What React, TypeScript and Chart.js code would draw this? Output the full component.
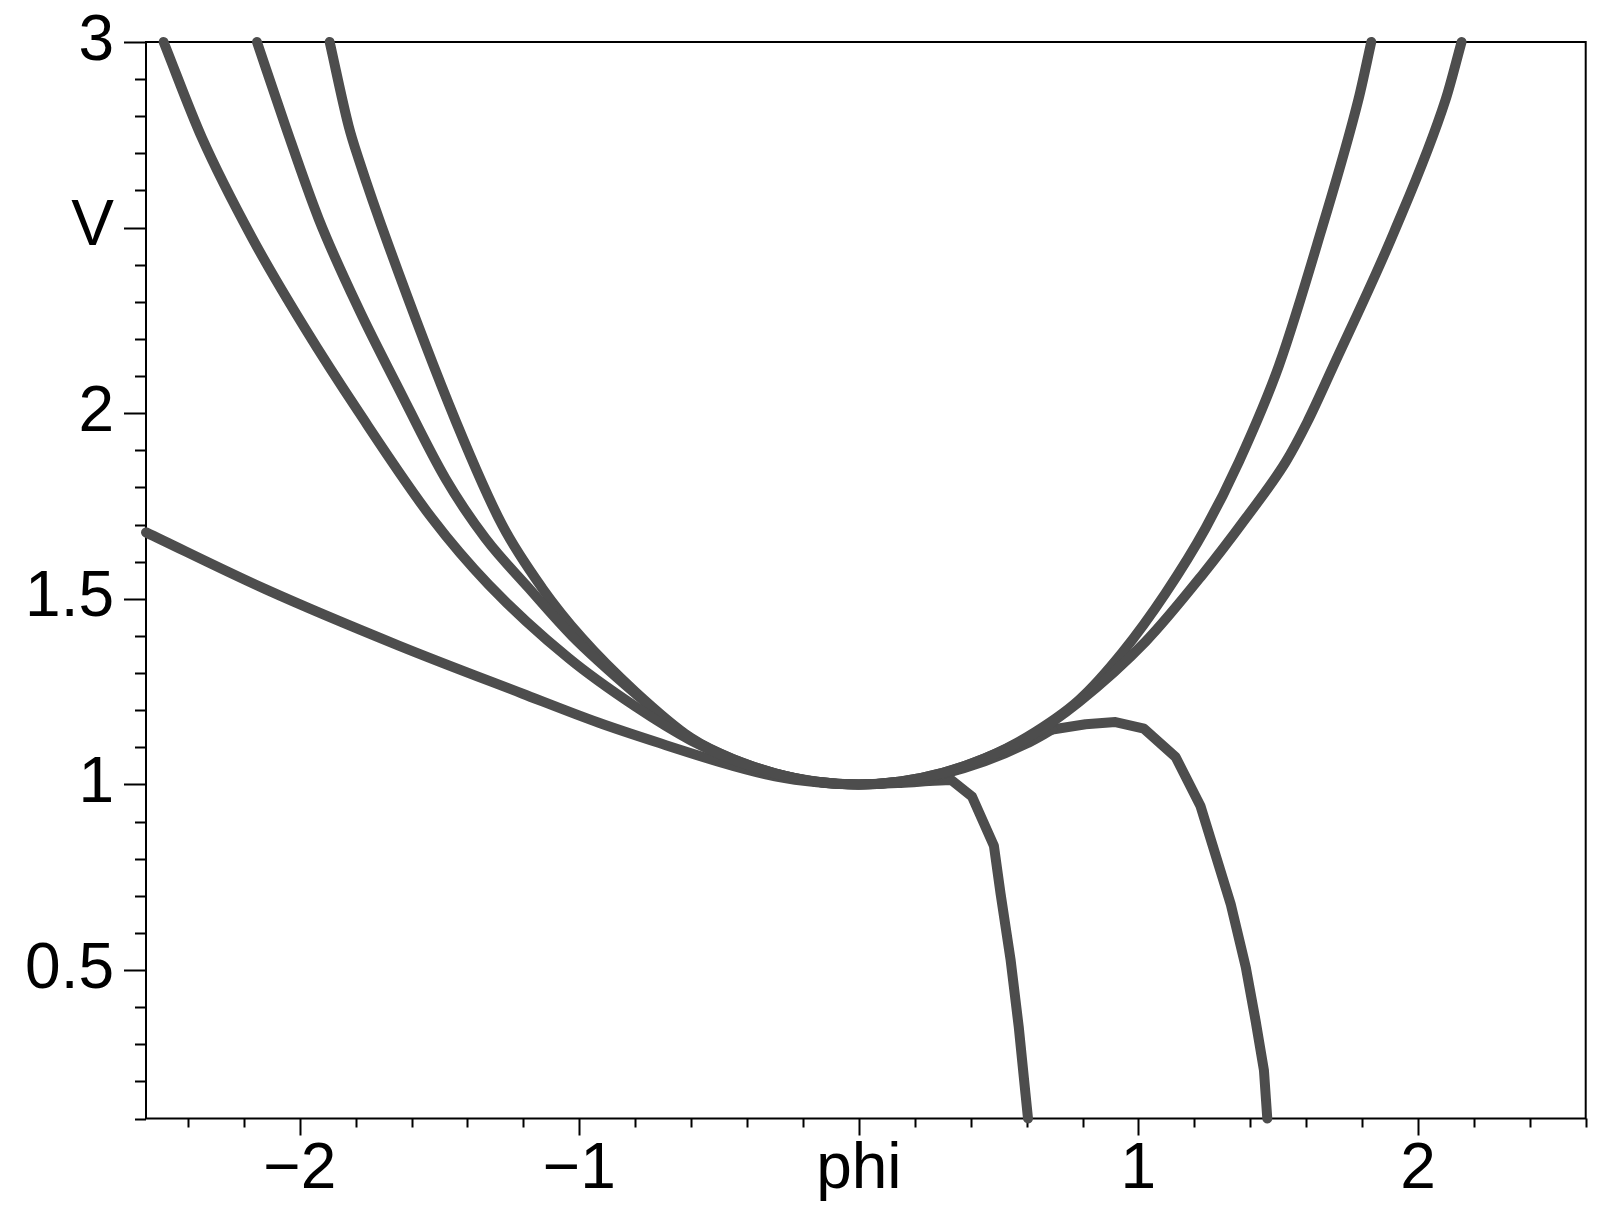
import React, { useEffect, useRef } from 'react';
import { Chart, registerables } from 'chart.js';

Chart.register(...registerables);

// Axis ticks and labels
const xTickValues = [-2, -1, 0, 1, 2];
const xTickLabels = ['\u22122', '\u22121', 'phi', '1', '2'];
const yTickValues = [0.5, 1, 1.5, 2, 2.5, 3];
const yTickLabels = ['0.5', '1', '1.5', '2', 'V', '3'];

// Curve 1: widest branches
const curve1X = [-2.487, -2.35, -2.171, -1.98, -1.789, -1.527, -1.324, -1.038, -0.8, -0.6, -0.45, -0.3, -0.15, 0, 0.15, 0.3, 0.45, 0.6, 0.787, 1.026, 1.228, 1.384, 1.527, 1.604, 1.693, 1.914, 2.099, 2.156];
const curve1Y = [3.0, 2.742, 2.473, 2.227, 2.003, 1.717, 1.538, 1.34, 1.21, 1.118, 1.066, 1.029, 1.007, 1.0, 1.008, 1.031, 1.07, 1.124, 1.222, 1.385, 1.564, 1.717, 1.869, 1.976, 2.12, 2.487, 2.845, 3.0];

// Curve 2
const curve2X = [-2.153, -2.051, -1.932, -1.789, -1.646, -1.479, -1.336, -1.181, -1.026, -0.8, -0.6, -0.45, -0.3, -0.15, 0, 0.15, 0.3, 0.45, 0.6, 0.787, 0.942, 1.097, 1.24, 1.36, 1.503, 1.652, 1.787, 1.833];
const curve2Y = [3.0, 2.773, 2.523, 2.281, 2.066, 1.824, 1.663, 1.529, 1.4, 1.245, 1.123, 1.068, 1.03, 1.007, 1.0, 1.008, 1.031, 1.07, 1.127, 1.227, 1.355, 1.515, 1.69, 1.87, 2.129, 2.487, 2.845, 3.0];

// Curve 3: steep left branch (smooth part) and early drop on the right
const curve3SmoothX = [-1.893, -1.825, -1.789, -1.682, -1.44, -1.276, -1.133, -0.99, -0.8, -0.6, -0.45, -0.3, -0.15, 0, 0.15, 0.25];
const curve3SmoothY = [3.0, 2.773, 2.684, 2.451, 1.975, 1.699, 1.529, 1.394, 1.25, 1.125, 1.068, 1.03, 1.007, 1.0, 1.004, 1.009];
const curve3DropX = [0.25, 0.33, 0.405, 0.483, 0.507, 0.543, 0.572, 0.596, 0.605];
const curve3DropY = [1.009, 1.012, 0.967, 0.835, 0.705, 0.526, 0.346, 0.167, 0.1];

// Curve 4: shallow left branch (smooth part), bump then drop on the right
const curve4SmoothX = [-2.55, -2.123, -1.646, -1.205, -0.93, -0.716, -0.45, -0.3, -0.15, 0, 0.15, 0.3, 0.45, 0.6, 0.692];
const curve4SmoothY = [1.679, 1.526, 1.374, 1.245, 1.166, 1.112, 1.05, 1.022, 1.006, 1.0, 1.007, 1.028, 1.062, 1.11, 1.148];
const curve4BumpX = [0.692, 0.811, 0.918, 1.02, 1.133, 1.222, 1.33, 1.384, 1.419, 1.449, 1.461];
const curve4BumpY = [1.148, 1.162, 1.168, 1.15, 1.074, 0.942, 0.678, 0.508, 0.364, 0.23, 0.1];

const smoothPiecesX = [curve1X, curve2X, curve3SmoothX, curve4SmoothX];
const smoothPiecesY = [curve1Y, curve2Y, curve3SmoothY, curve4SmoothY];
const polyPiecesX = [curve3DropX, curve4BumpX];
const polyPiecesY = [curve3DropY, curve4BumpY];

const LINE_COLOR = '#4d4d4d';
const FONT = { family: '"Liberation Sans", Arial, Helvetica, sans-serif', size: 64, lineHeight: 1 };

const framePlugin = {
  id: 'mapleFrame',
  beforeDatasetsDraw(chart: any) {
    const { ctx, chartArea } = chart;
    const { left, right, top, bottom } = chartArea;
    const xs = chart.scales.x;
    const ys = chart.scales.y;
    ctx.save();
    ctx.strokeStyle = '#000';
    ctx.lineWidth = 2;
    ctx.strokeRect(left, top, right - left, bottom - top);
    ctx.beginPath();
    for (let i = -13; i <= 13; i++) {
      const v = i * 0.2;
      if (v < xs.min - 1e-6 || v > xs.max + 1e-6) continue;
      const major = i % 5 === 0;
      const px = Math.round(xs.getPixelForValue(v)) + 0.5;
      ctx.moveTo(px, bottom);
      ctx.lineTo(px, bottom + (major ? 17 : 9));
    }
    for (let i = 1; i <= 30; i++) {
      const v = i / 10;
      if (v < ys.min - 1e-6 || v > ys.max + 1e-6) continue;
      const major = i % 5 === 0;
      const py = Math.round(ys.getPixelForValue(v)) + 0.5;
      ctx.moveTo(left, py);
      ctx.lineTo(left - (major ? 22 : 11), py);
    }
    ctx.stroke();
    ctx.restore();
  },
};

function makeDataset(xs: number[], ys: number[], label: string, smooth: boolean) {
  return {
    label,
    data: xs.map((x, i) => ({ x, y: ys[i] })),
    borderColor: LINE_COLOR,
    backgroundColor: LINE_COLOR,
    borderWidth: 10,
    borderCapStyle: 'round' as const,
    borderJoinStyle: 'round' as const,
    pointRadius: 0,
    pointHoverRadius: 0,
    tension: 0,
    cubicInterpolationMode: smooth ? ('monotone' as const) : ('default' as const),
    fill: false,
    clip: 8,
  };
}

export default function App() {
  const canvasRef = useRef<HTMLCanvasElement | null>(null);

  useEffect(() => {
    const canvas = canvasRef.current;
    if (!canvas) return;
    const datasets = [
      ...smoothPiecesX.map((xs, k) => makeDataset(xs, smoothPiecesY[k], 'smooth' + k, true)),
      ...polyPiecesX.map((xs, k) => makeDataset(xs, polyPiecesY[k], 'poly' + k, false)),
    ];

    const chart = new Chart(canvas, {
      type: 'line',
      data: { datasets },
      plugins: [framePlugin],
      options: {
        animation: false,
        responsive: false,
        maintainAspectRatio: false,
        devicePixelRatio: 1,
        layout: { padding: { left: 0, top: 39, right: 24.3, bottom: 0 } },
        plugins: { legend: { display: false }, tooltip: { enabled: false } },
        scales: {
          x: {
            type: 'linear',
            min: -2.55,
            max: 2.6,
            afterFit: (s: any) => { s.height = 111.5; },
            afterBuildTicks: (s: any) => { s.ticks = xTickValues.map((value) => ({ value })); },
            border: { display: false },
            grid: { display: true, drawOnChartArea: false, drawTicks: true, tickLength: 17, tickColor: 'rgba(0,0,0,0)' },
            ticks: {
              autoSkip: false,
              maxRotation: 0,
              padding: 3,
              color: '#000',
              font: FONT,
              callback: (_v: any, i: number) => xTickLabels[i],
            },
          },
          y: {
            type: 'linear',
            min: 0.1,
            max: 3,
            afterFit: (s: any) => { s.width = 146; },
            afterBuildTicks: (s: any) => { s.ticks = yTickValues.map((value) => ({ value })); },
            border: { display: false },
            grid: { display: true, drawOnChartArea: false, drawTicks: true, tickLength: 22, tickColor: 'rgba(0,0,0,0)' },
            ticks: {
              autoSkip: false,
              padding: 10,
              color: '#000',
              font: FONT,
              callback: (_v: any, i: number) => yTickLabels[i],
            },
          },
        },
      },
    });
    return () => chart.destroy();
  }, []);

  return (
    <div style={{ position: 'absolute', left: 0, top: 0, width: 1610, height: 1230, background: '#fff' }}>
      <canvas ref={canvasRef} width={1610} height={1230} style={{ display: 'block', width: 1610, height: 1230 }} />
    </div>
  );
}
